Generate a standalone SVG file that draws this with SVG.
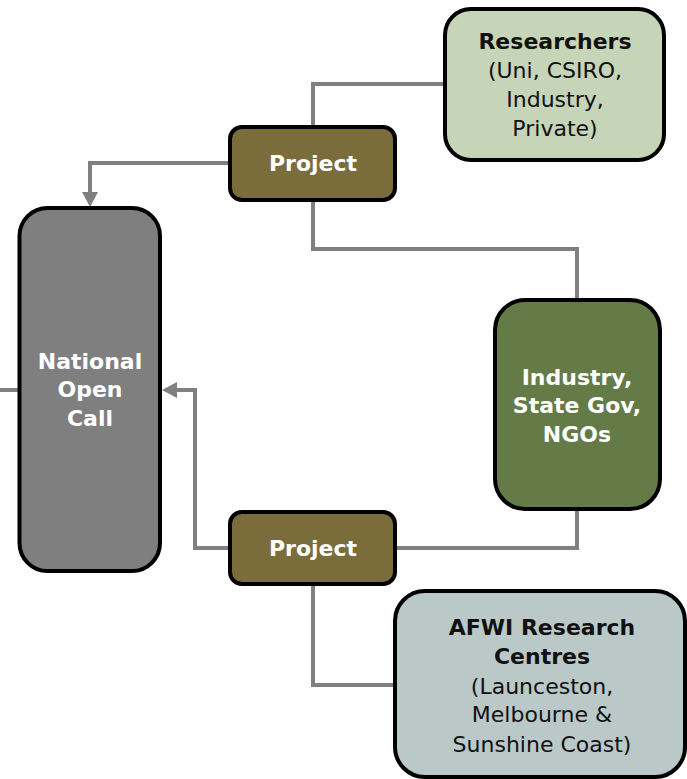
<svg xmlns="http://www.w3.org/2000/svg" width="687" height="779" viewBox="0 0 687 779">
<style>
.box{stroke:#000;stroke-width:4}
.con{fill:none;stroke:#808080;stroke-width:4}
text{font-family:"DejaVu Sans","Liberation Sans",sans-serif;font-size:22px;text-anchor:middle}
.b{font-weight:bold}
.w{fill:#fff}
.k{fill:#111}
</style>
<defs>
<marker id="arr" markerUnits="userSpaceOnUse" markerWidth="16" markerHeight="18" refX="0" refY="8" orient="auto" viewBox="0 0 16 16">
<path d="M0,0 L15,8 L0,16 Z" fill="#808080"/>
</marker>
</defs>
<rect width="687" height="779" fill="#fff"/>
<g id="connectors">
<path class="con" d="M445,84 H313 V127"/>
<path class="con" d="M230,163 H90 V192" marker-end="url(#arr)"/>
<path class="con" d="M313,200 V249 H577 V300"/>
<path class="con" d="M577,509 V548 H395"/>
<path class="con" d="M230,548 H195 V390 H177" marker-end="url(#arr)"/>
<path class="con" d="M0,390 H19"/>
<path class="con" d="M313,584 V685 H395"/>
</g>
<g id="researchers">
<rect class="box" x="445" y="9" width="219" height="151" rx="26" fill="#c6d4b7"/>
<text x="555" y="49" class="b k">Researchers</text>
<text x="555" y="78" class="k">(Uni, CSIRO,</text>
<text x="555" y="107" class="k">Industry,</text>
<text x="555" y="136" class="k">Private)</text>
</g>
<g id="project-top">
<rect class="box" x="230" y="127" width="165" height="73" rx="12" fill="#7a6c3b"/>
<text x="313" y="171" class="b w">Project</text>
</g>
<g id="national-open-call">
<rect class="box" x="19.5" y="208" width="140.5" height="363" rx="28" fill="#7f7f7f"/>
<text x="90" y="369" class="b w">National</text>
<text x="90" y="397" class="b w">Open</text>
<text x="90" y="426" class="b w">Call</text>
</g>
<g id="industry">
<rect class="box" x="495" y="300" width="165" height="209" rx="30" fill="#647b47"/>
<text x="577" y="385" class="b w">Industry,</text>
<text x="577" y="413" class="b w">State Gov,</text>
<text x="577" y="442" class="b w">NGOs</text>
</g>
<g id="project-bottom">
<rect class="box" x="230" y="512" width="165" height="72" rx="12" fill="#7a6c3b"/>
<text x="313" y="556" class="b w">Project</text>
</g>
<g id="afwi">
<rect class="box" x="395" y="591" width="290" height="186" rx="30" fill="#bac8c7"/>
<text x="542" y="635" class="b k">AFWI Research</text>
<text x="542" y="664" class="b k">Centres</text>
<text x="542" y="694" class="k">(Launceston,</text>
<text x="542" y="722" class="k">Melbourne &amp;</text>
<text x="542" y="752" class="k">Sunshine Coast)</text>
</g>
</svg>
